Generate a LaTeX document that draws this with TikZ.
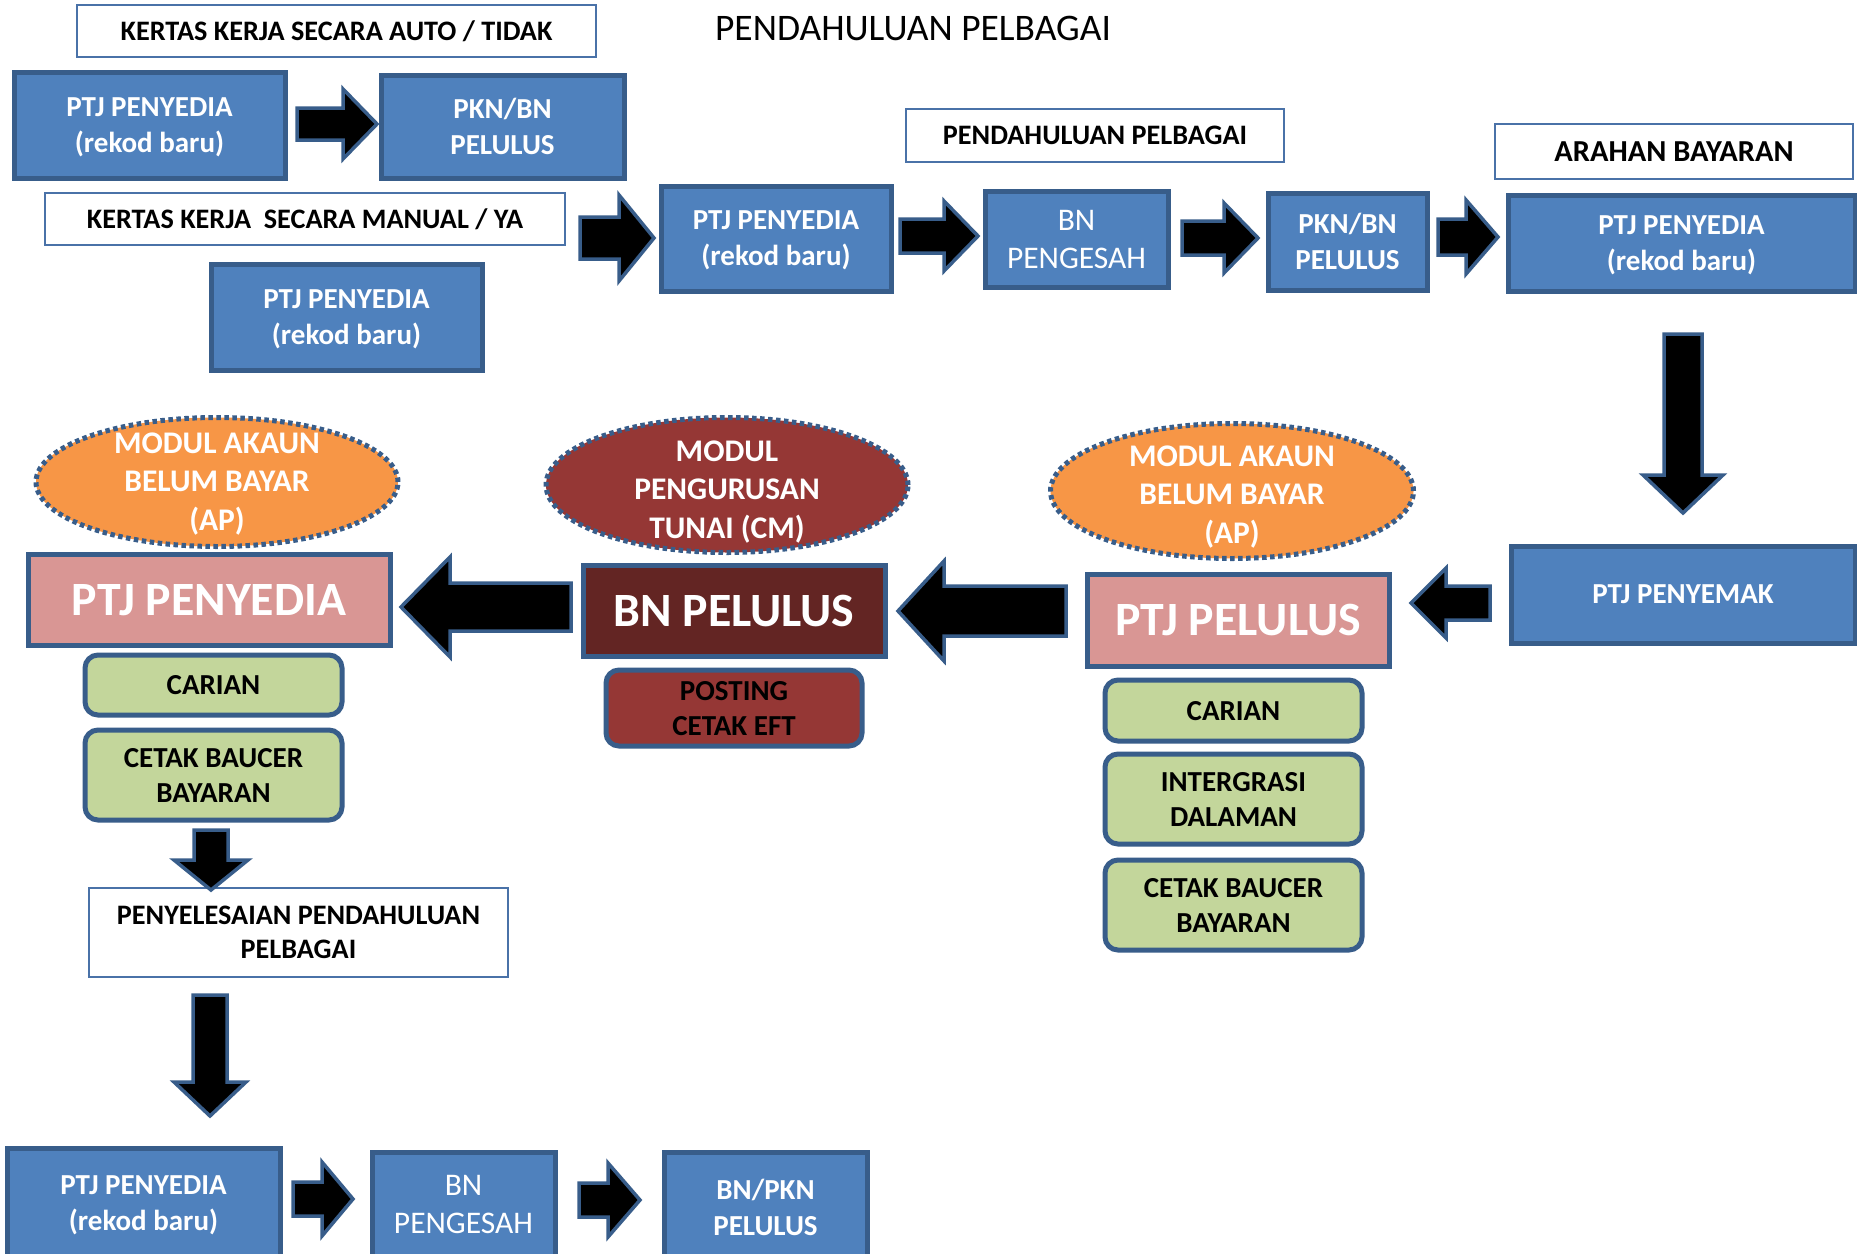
\documentclass[tikz,border=0pt]{standalone}
\usepackage{fontspec}
\setmainfont{Carlito}
\usetikzlibrary{shapes.geometric}
\definecolor{bfill}{HTML}{4F81BD}
\definecolor{bdraw}{HTML}{385D8A}
\definecolor{hdraw}{HTML}{4A72A8}
\definecolor{pinkf}{HTML}{D99694}
\definecolor{darkred}{HTML}{632523}
\definecolor{redf}{HTML}{953735}
\definecolor{orangef}{HTML}{F79646}
\definecolor{greenf}{HTML}{C3D69B}
\tikzset{
  bluebox/.style={draw=bdraw, fill=bfill, line width=5pt, text=white, align=center, inner sep=0pt,
    font=\bfseries\fontsize{29}{36}\selectfont},
  blueboxr/.style={bluebox, font=\fontsize{31.5}{38}\selectfont},
  tdown/.style={text depth=-2pt},
  hdrbox/.style={draw=hdraw, fill=white, line width=2pt, align=center, inner sep=0pt, text depth=-2pt,
    font=\bfseries\fontsize{28.2}{34}\selectfont},
  pinkbox/.style={draw=bdraw, fill=pinkf, line width=5pt, text=white, inner sep=0pt, text depth=-7pt,
    font=\bfseries\fontsize{47.8}{56}\selectfont},
  darkbox/.style={pinkbox, fill=darkred, text depth=-9pt},
  greenbox/.style={draw=bdraw, fill=greenf, rounded corners=13pt, line width=5pt, align=center, inner sep=0pt,
    text depth=-5pt, font=\bfseries\fontsize{29}{35}\selectfont},
  redbox/.style={greenbox, fill=redf},
  ell/.style={ellipse, draw=bdraw, line width=5pt, dash pattern=on 4.5pt off 3.5pt, inner sep=0pt},
  elltext/.style={text=white, align=center, inner sep=0pt, font=\bfseries\fontsize{31.5}{38.5}\selectfont},
  barrow/.style={fill=black, draw=bdraw, line width=3.5pt, line join=miter},
  sz/.style 2 args={minimum width=#1, minimum height=#2}
}
% block arrows: right (x1,x2,yc,shaft,head,headlen)
\newcommand\barR[6]{\draw[barrow] (#1,{#3-#4}) -- ({#2-#6},{#3-#4}) -- ({#2-#6},{#3-#5}) -- (#2,#3) -- ({#2-#6},{#3+#5}) -- ({#2-#6},{#3+#4}) -- (#1,{#3+#4}) -- cycle;}
% left (tip x1, tail x2, yc, shaft, head, headlen)
\newcommand\barL[6]{\draw[barrow] (#2,{#3-#4}) -- ({#1+#6},{#3-#4}) -- ({#1+#6},{#3-#5}) -- (#1,#3) -- ({#1+#6},{#3+#5}) -- ({#1+#6},{#3+#4}) -- (#2,{#3+#4}) -- cycle;}
% down (xc, y1, tip y2, shaft, head, headlen)
\newcommand\barD[6]{\draw[barrow] ({#1-#4},#2) -- ({#1-#4},{#3-#6}) -- ({#1-#5},{#3-#6}) -- (#1,#3) -- ({#1+#5},{#3-#6}) -- ({#1+#4},{#3-#6}) -- ({#1+#4},#2) -- cycle;}
\begin{document}
\begin{tikzpicture}[x=1pt,y=-1pt]
\useasboundingbox[fill=white] (0,0) rectangle (1857,1253);

% title
\node[font=\fontsize{37.5}{44}\selectfont, inner sep=0pt] (title) at (913,28) {PENDAHULUAN PELBAGAI};

% header boxes
\node[hdrbox, sz={519}{52}, text depth=0pt] (h1) at (336.5,31) {KERTAS KERJA SECARA AUTO / TIDAK};
\node[hdrbox, sz={520}{52}, text depth=0pt] (h2) at (305,219) {KERTAS KERJA\ \ SECARA MANUAL / YA};
\node[hdrbox, sz={378}{53}] (h3) at (1095,135.5) {PENDAHULUAN PELBAGAI};
\node[hdrbox, sz={358}{55}, font=\bfseries\fontsize{30.5}{36}\selectfont] (h4) at (1674,151.5) {ARAHAN BAYARAN};

% top blue boxes
\node[bluebox, tdown, sz={271}{106}] (p1) at (149.5,125) {PTJ PENYEDIA\\(rekod baru)};
\node[bluebox, tdown, sz={243}{103}] (p2) at (502.5,126.5) {PKN/BN\\PELULUS};
\node[bluebox, tdown, sz={271}{106}] (p3) at (346.5,317) {PTJ PENYEDIA\\(rekod baru)};
\node[bluebox, tdown, sz={230}{105}] (p4) at (776,238.5) {PTJ PENYEDIA\\(rekod baru)};
\node[blueboxr, text depth=-3pt, sz={183}{96}] (p5) at (1076.5,239) {BN\\PENGESAH};
\node[bluebox, tdown, sz={159}{97}] (p6) at (1347.5,241.5) {PKN/BN\\PELULUS};
\node[bluebox, tdown, sz={347}{96}] (p7) at (1681.5,243) {PTJ PENYEDIA\\(rekod baru)};
\node[bluebox, sz={344}{97}] (pem) at (1683,594.5) {PTJ PENYEMAK};

% ellipses
\node[ell, fill=orangef, sz={362}{129}] (e1) at (217,482) {};
\node[elltext] (e1t) at (217,484) {MODUL AKAUN\\BELUM BAYAR\\(AP)};
\node[ell, fill=redf, sz={362}{135}] (e2) at (727,485) {};
\node[elltext] (e2t) at (727,492) {MODUL\\PENGURUSAN\\TUNAI (CM)};
\node[ell, fill=orangef, sz={363}{135}] (e3) at (1232,491) {};
\node[elltext] (e3t) at (1232,497) {MODUL AKAUN\\BELUM BAYAR\\(AP)};

% big boxes
\node[pinkbox, sz={362}{91}] (bp1) at (209,599.5) {PTJ PENYEDIA};
\node[darkbox, sz={302}{91}] (bn) at (734,610.5) {BN PELULUS};
\node[pinkbox, sz={302}{92}, text depth=-3pt] (bp2) at (1238,620) {PTJ PELULUS};

% green / red sub boxes
\node[greenbox, sz={257}{60}] (g1) at (213.5,685) {CARIAN};
\node[greenbox, sz={257}{90}] (g2) at (213.5,775) {CETAK BAUCER\\BAYARAN};
\node[redbox, sz={256}{76}] (r1) at (734,708) {POSTING\\CETAK EFT};
\node[greenbox, sz={257}{61}] (g3) at (1233.5,710.5) {CARIAN};
\node[greenbox, sz={257}{90}] (g4) at (1233.5,799) {INTERGRASI\\DALAMAN};
\node[greenbox, sz={257}{90}] (g5) at (1233.5,905) {CETAK BAUCER\\BAYARAN};

% settlement box
\node[hdrbox, sz={419}{89}] (pp) at (298.5,932.5) {PENYELESAIAN PENDAHULUAN\\PELBAGAI};

% bottom blue boxes
\node[bluebox, sz={273}{114}] (q1) at (143.5,1205) {PTJ PENYEDIA\\(rekod baru)};
\node[blueboxr, text depth=5pt, sz={183}{110}] (q2) at (463.5,1207) {BN\\PENGESAH};
\node[bluebox, sz={203}{110}] (q3) at (765.5,1207) {BN/PKN\\PELULUS};

% block arrows
\barR{297}{377}{124}{16}{35}{34}
\barR{580}{654}{238}{21}{43}{35}
\barR{900}{978}{236}{17}{35}{34}
\barR{1182}{1258}{238}{17}{35}{34}
\barR{1438}{1498}{237}{18}{37}{32}
\barD{1683}{334}{513}{19}{40}{38}
\barL{1411}{1490}{603}{17}{35}{35}
\barL{898}{1066}{611}{25}{50}{46}
\barL{401}{571}{607}{24}{50}{49}
\barD{211}{830}{890}{17}{37}{30}
\barD{210}{995}{1116}{17}{36}{34}
\barR{293}{353}{1199}{17}{37}{31}
\barR{579}{640}{1200}{17}{37}{32}
\end{tikzpicture}
\end{document}
